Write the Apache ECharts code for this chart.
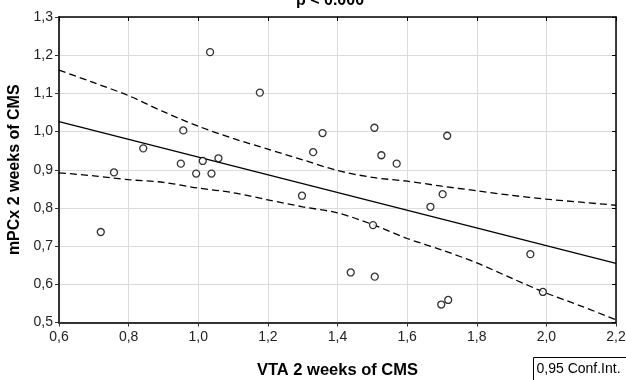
<!DOCTYPE html>
<html>
<head>
<meta charset="utf-8">
<script src="https://cdn.jsdelivr.net/npm/echarts@6/dist/echarts.min.js"></script>
<style>
  html, body { margin: 0; padding: 0; background: #fff; }
  #chart { width: 626px; height: 380px; }
</style>
</head>
<body>
<div id="chart"></div>
<script>
// observed points (VTA, mPCx)
const vta = [0.72, 0.758, 0.842, 0.95, 0.957, 0.994, 1.013, 1.034, 1.038, 1.058,
  1.177, 1.298, 1.33, 1.357, 1.438, 1.502, 1.506, 1.507, 1.526, 1.57,
  1.667, 1.698, 1.702, 1.715, 1.718, 1.954, 1.99];
const mpcx = [0.737, 0.893, 0.956, 0.916, 1.003, 0.89, 0.923, 1.208, 0.89, 0.93,
  1.102, 0.832, 0.946, 0.996, 0.631, 0.755, 1.01, 0.62, 0.938, 0.916,
  0.803, 0.547, 0.836, 0.989, 0.559, 0.679, 0.58];

// fitted line end points
const fitX = [0.6, 2.2];
const fitY = [1.026, 0.655];

// confidence band
const bandX = [0.6, 0.7, 0.8, 0.9, 1.0, 1.1, 1.2, 1.3, 1.4, 1.5, 1.6, 1.7, 1.8, 1.9, 2.0, 2.1, 2.2];
const upperY = [1.161, 1.128, 1.094, 1.052, 1.014, 0.982, 0.954, 0.926, 0.898, 0.880, 0.870, 0.857, 0.845, 0.833, 0.823, 0.815, 0.807];
const lowerY = [0.892, 0.884, 0.874, 0.867, 0.852, 0.840, 0.821, 0.803, 0.787, 0.757, 0.720, 0.690, 0.656, 0.616, 0.577, 0.543, 0.507];

const fmt = (v) => v.toFixed(1).replace(".", ",");
const font = "Liberation Sans, Arial, sans-serif";

const chart = echarts.init(document.getElementById("chart"));

const dashed = { color: "#000", width: 1.3, type: [7, 4] };

chart.setOption({
  animation: false,
  title: {
    text: "p < 0.000",
    left: 325,
    top: -12,
    textAlign: "center",
    textStyle: { fontFamily: font, fontSize: 16, fontWeight: "bold", color: "#000" },
  },
  // keep the plot box fixed, don't let names push it around
  grid: { left: 59, right: 10, top: 17, bottom: 57.5, outerBoundsMode: "none", containLabel: false },
  xAxis: [
    {
      type: "value",
      min: 0.6,
      max: 2.2,
      interval: 0.2,
      name: "VTA 2 weeks of CMS",
      nameLocation: "middle",
      nameGap: 39,
      nameTextStyle: { fontFamily: font, fontSize: 16.5, fontWeight: "bold", color: "#000" },
      axisLine: { onZero: false, lineStyle: { color: "#333", width: 2 } },
      axisTick: { show: true, length: 4, lineStyle: { color: "#333" } },
      axisLabel: { formatter: fmt, fontFamily: font, fontSize: 14, color: "#222", margin: 8 },
      splitLine: { show: true, lineStyle: { color: "#dcdcdc", width: 1 } },
    },
    {
      type: "value",
      position: "top",
      min: 0.6,
      max: 2.2,
      interval: 0.2,
      axisLine: { show: true, onZero: false, lineStyle: { color: "#000", width: 1.5 } },
      axisTick: { show: true, inside: true, length: 4, lineStyle: { color: "#000" } },
      axisLabel: { show: false },
      splitLine: { show: false },
    },
  ],
  yAxis: [
    {
      type: "value",
      min: 0.5,
      max: 1.3,
      interval: 0.1,
      name: "mPCx 2 weeks of CMS",
      nameLocation: "middle",
      nameGap: 35,
      nameTextStyle: { fontFamily: font, fontSize: 16, fontWeight: "bold", color: "#000" },
      axisLine: { show: true, onZero: false, lineStyle: { color: "#333", width: 2 } },
      axisTick: { show: true, length: 4, lineStyle: { color: "#333" } },
      axisLabel: { formatter: fmt, fontFamily: font, fontSize: 14, color: "#222", margin: 6 },
      splitLine: { show: true, lineStyle: { color: "#dcdcdc", width: 1 } },
    },
    {
      type: "value",
      position: "right",
      min: 0.5,
      max: 1.3,
      interval: 0.1,
      axisLine: { show: true, onZero: false, lineStyle: { color: "#000", width: 1.5 } },
      axisTick: { show: true, inside: true, length: 4, lineStyle: { color: "#000" } },
      axisLabel: { show: false },
      splitLine: { show: false },
    },
  ],
  graphic: [
    {
      type: "group",
      left: 533,
      top: 357,
      children: [
        {
          type: "rect",
          shape: { x: 0, y: 0, width: 100, height: 26 },
          style: { fill: "#fff", stroke: "#000", lineWidth: 1 },
        },
        {
          type: "text",
          x: 3,
          y: 5,
          style: { text: "0,95 Conf.Int.", font: "14px " + font, fill: "#000" },
        },
      ],
    },
  ],
  series: [
    {
      type: "line",
      data: bandX.map((x, i) => [x, upperY[i]]),
      showSymbol: false,
      symbol: "none",
      smooth: 0.3,
      lineStyle: dashed,
      z: 2,
    },
    {
      type: "line",
      data: bandX.map((x, i) => [x, lowerY[i]]),
      showSymbol: false,
      symbol: "none",
      smooth: 0.3,
      lineStyle: dashed,
      z: 2,
    },
    {
      type: "line",
      data: fitX.map((x, i) => [x, fitY[i]]),
      showSymbol: false,
      symbol: "none",
      lineStyle: { color: "#000", width: 1.3 },
      z: 3,
    },
    {
      type: "scatter",
      data: vta.map((x, i) => [x, mpcx[i]]),
      symbol: "circle",
      symbolSize: 7,
      itemStyle: { color: "#fff", borderColor: "#000", borderWidth: 1.3 },
      z: 4,
    },
  ],
});
</script>
</body>
</html>
